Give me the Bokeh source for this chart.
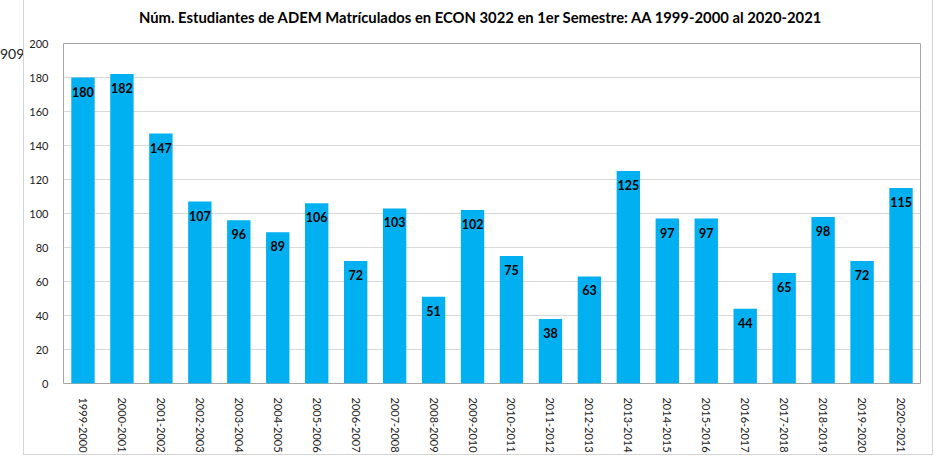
import math
from bokeh.plotting import figure
from bokeh.models import ColumnDataSource, Range1d, FactorRange, Div
from bokeh.layouts import row, column
from bokeh.core.properties import value
from bokeh.embed import file_html
from bokeh.resources import INLINE

years = ["1999-2000", "2000-2001", "2001-2002", "2002-2003", "2003-2004", "2004-2005",
         "2005-2006", "2006-2007", "2007-2008", "2008-2009", "2009-2010", "2010-2011",
         "2011-2012", "2012-2013", "2013-2014", "2014-2015", "2015-2016", "2016-2017",
         "2017-2018", "2018-2019", "2019-2020", "2020-2021"]
students = [180, 182, 147, 107, 96, 89, 106, 72, 103, 51, 102, 75,
            38, 63, 125, 97, 97, 44, 65, 98, 72, 115]
y_ticks = [0, 20, 40, 60, 80, 100, 120, 140, 160, 180, 200]
title_text = "Núm. Estudiantes de ADEM Matrículados en ECON 3022 en 1er Semestre: AA 1999-2000 al 2020-2021"
side_note = "909"

FONT = "Lato"
FRAME_LINE = "1px solid #d4d4d4"

source = ColumnDataSource(data=dict(x=years, y=students, t=[str(v) for v in students]))

p = figure(x_range=FactorRange(factors=years, range_padding=0),
           y_range=Range1d(0, 200),
           width=910, height=425,
           min_border_left=39, min_border_right=14, min_border_top=13, min_border_bottom=70,
           output_backend="svg", toolbar_location=None, tools="",
           margin=0,
           styles={"border-left": FRAME_LINE,
                   "border-right": FRAME_LINE,
                   "border-bottom": FRAME_LINE})

p.vbar(x="x", top="y", width=0.6, source=source, fill_color="#00B0F0", line_color=None)
p.text(x="x", y="y", text="t", source=source, text_align="center", text_baseline="top",
       y_offset=9, text_font=value(FONT), text_font_style="bold", text_font_size="12.5px",
       text_color="#000000")

p.yaxis.ticker = y_ticks
p.yaxis.axis_line_color = None
p.yaxis.major_tick_line_color = None
p.yaxis.minor_tick_line_color = None
p.yaxis.major_label_text_font = FONT
p.yaxis.major_label_text_font_size = "11px"
p.yaxis.major_label_text_color = "#222222"
p.yaxis.major_label_standoff = 9

p.xaxis.axis_line_color = None
p.xaxis.major_tick_line_color = None
p.xaxis.minor_tick_line_color = None
p.xaxis.major_label_orientation = -math.pi / 2
p.xaxis.major_label_text_font = FONT
p.xaxis.major_label_text_font_size = "11px"
p.xaxis.major_label_text_color = "#222222"
p.xaxis.major_label_standoff = 8

p.xgrid.grid_line_color = None
p.ygrid.grid_line_color = "#d9d9d9"
p.ygrid.grid_line_width = 1

p.outline_line_color = "#a6a6a6"
p.outline_line_width = 1

p.background_fill_color = "white"
p.border_fill_color = "white"

title_div = Div(text=title_text, width=910, height=30, margin=0,
                styles={"font-family": "Lato", "font-size": "14.8px", "font-weight": "bold",
                        "color": "#000000", "padding-top": "7px", "padding-left": "115px",
                        "white-space": "nowrap", "overflow": "hidden",
                        "box-sizing": "border-box", "background": "white",
                        "border-left": FRAME_LINE, "border-right": FRAME_LINE})

note = Div(text=side_note, width=23, height=455, margin=0,
           styles={"font-family": "Lato", "font-size": "14px", "color": "#222222",
                   "padding-top": "44px", "text-align": "right", "white-space": "nowrap",
                   "overflow": "hidden", "box-sizing": "border-box"})

layout = row(note, column(title_div, p, spacing=0, margin=0), spacing=0, margin=0)

open("out.html", "w").write(file_html(layout, INLINE))
